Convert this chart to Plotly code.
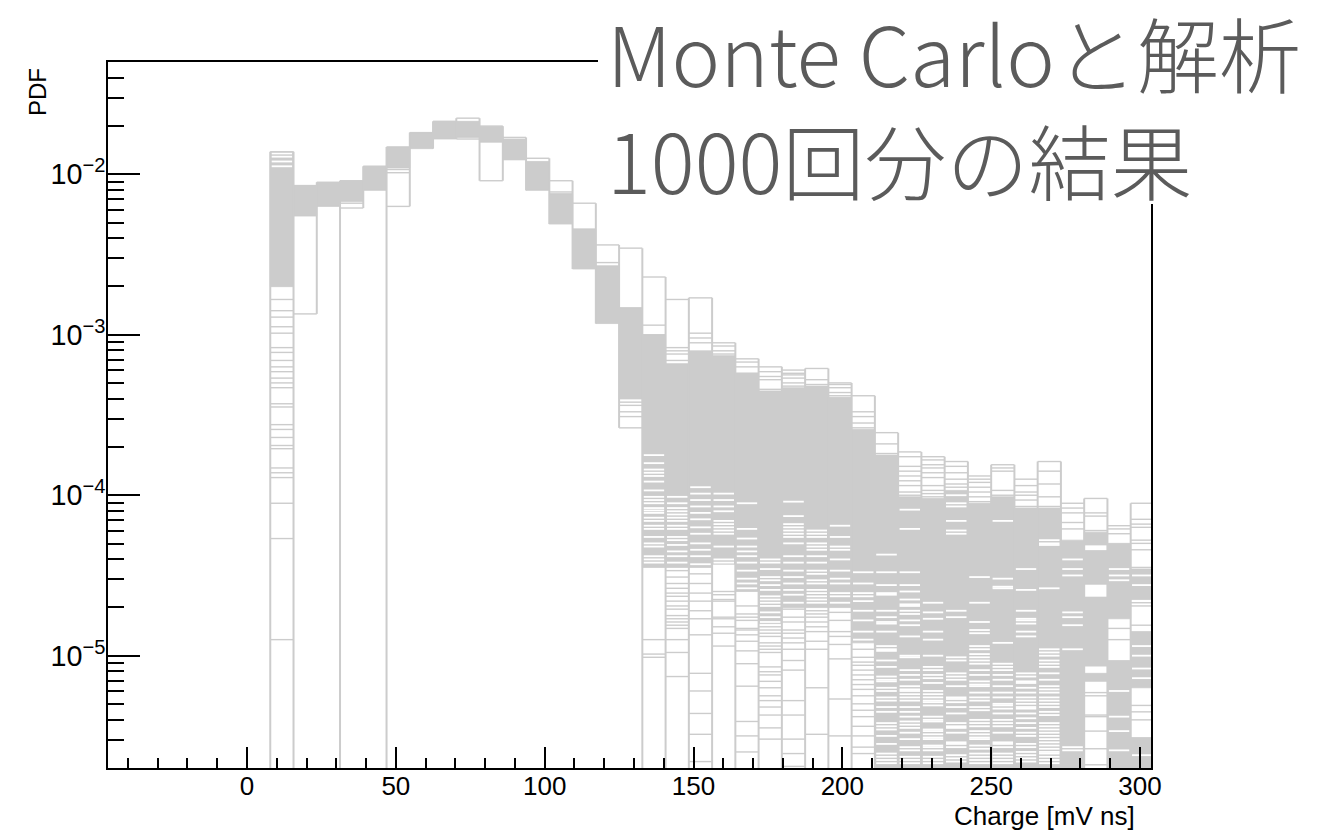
import plotly.graph_objects as go

# ---------------------------------------------------------------------------
# Charge spectrum: 1000 Monte Carlo runs overlaid (ROOT-style step histograms)
# ---------------------------------------------------------------------------
BIN_WIDTH = 7.8125      # mV ns
FIRST_EDGE = 7.8125     # lower edge of the first filled bin
N_BINS = 38

# log10(PDF): highest value reached in each bin over all runs
log_max = [-1.86, -2.07, -2.05, -2.04, -1.95, -1.83, -1.74, -1.67, -1.65, -1.70,
           -1.77, -1.90, -2.04, -2.18, -2.44, -2.46, -2.64, -2.78, -2.77, -3.05,
           -3.15, -3.20, -3.22, -3.21, -3.30, -3.38, -3.61, -3.73, -3.76, -3.79,
           -3.88, -3.81, -3.90, -3.79, -4.05, -4.02, -4.19, -4.05]

# log10(PDF) ranges (upper, lower) densely covered by the runs
log_bands = [
    [(-1.86, -2.70)], [(-2.07, -2.26)], [(-2.05, -2.20)], [(-2.04, -2.17)],
    [(-1.95, -2.10)], [(-1.83, -1.96)], [(-1.74, -1.84)], [(-1.67, -1.78)],
    [(-1.67, -1.77)], [(-1.70, -1.80)], [(-1.78, -1.91)], [(-1.92, -2.10)],
    [(-2.12, -2.31)], [(-2.34, -2.59)], [(-2.57, -2.93)], [(-2.83, -3.40)],
    [(-3.00, -4.45)], [(-3.18, -4.45)], [(-3.10, -4.45)], [(-3.13, -4.43)],
    [(-3.24, -4.60)], [(-3.35, -4.80)], [(-3.33, -4.70)], [(-3.32, -4.70)],
    [(-3.39, -4.70)], [(-3.59, -4.92)], [(-3.75, -5.80)], [(-4.01, -5.80)],
    [(-4.02, -5.80)], [(-3.97, -5.80)], [(-4.05, -5.80)], [(-4.01, -5.80)],
    [(-4.08, -5.80)], [(-4.08, -5.80)], [(-4.28, -5.80)],
    [(-4.23, -4.31), (-4.345, -4.555), (-4.635, -5.065), (-5.11, -5.16)],
    [(-4.30, -4.77), (-5.03, -5.80)],
    [(-4.46, -4.65), (-4.85, -5.20), (-5.51, -5.80)],
]

# log10(PDF) values inside the dense ranges that no run reached
log_gaps = [
    [-1.87, -1.89, -1.92, -1.95],
    [], [], [], [], [], [], [], [], [], [], [], [], [], [], [],
    [-3.75, -3.80, -3.84, -3.86, -3.88, -3.915, -3.97, -4.01, -4.03, -4.05,
     -4.08, -4.095, -4.11, -4.14, -4.16, -4.19, -4.21, -4.26, -4.30, -4.32,
     -4.38, -4.40, -4.42],
    [-4.01, -4.05, -4.08, -4.10, -4.12, -4.14, -4.16, -4.19, -4.21, -4.26, -4.28,
     -4.31, -4.35, -4.38, -4.42],
    [-3.95, -3.99, -4.03, -4.07, -4.11, -4.15, -4.20, -4.24, -4.30, -4.34, -4.38,
     -4.43],
    [-3.99, -4.03, -4.07, -4.10, -4.16, -4.18, -4.20, -4.22, -4.24, -4.32, -4.40,
     -4.42],
    [-4.05, -4.21, -4.27, -4.32, -4.35, -4.38, -4.42, -4.47, -4.52, -4.55, -4.58],
    [-4.40, -4.42, -4.46, -4.51, -4.53, -4.56, -4.59, -4.63, -4.65, -4.67, -4.69,
     -4.73, -4.76, -4.79],
    [-4.04, -4.13, -4.18, -4.20, -4.22, -4.24, -4.26, -4.30, -4.38, -4.42, -4.47,
     -4.51, -4.55, -4.59, -4.62, -4.67],
    [-4.22, -4.24, -4.26, -4.30, -4.32, -4.34, -4.38, -4.42, -4.47, -4.49, -4.53,
     -4.55, -4.59, -4.61, -4.63, -4.65, -4.67],
    [-4.19, -4.26, -4.32, -4.34, -4.40, -4.47, -4.52, -4.55, -4.61, -4.63, -4.67],
    [-4.48, -4.55, -4.61, -4.63, -4.66, -4.72, -4.78, -4.85, -4.90],
    [-4.37, -4.48, -4.56, -4.61, -4.62, -4.72, -4.76, -4.79, -4.80, -4.85, -4.94,
     -4.96, -4.97, -5.03, -5.07, -5.13, -5.15, -5.16, -5.20, -5.22, -5.26, -5.28,
     -5.32, -5.35, -5.42, -5.44, -5.46, -5.50, -5.55, -5.61, -5.63, -5.65, -5.67],
    [-4.09, -4.21, -4.48, -4.56, -4.60, -4.65, -4.68, -4.69, -4.72, -4.74, -4.78,
     -4.81, -4.88, -5.00, -5.01, -5.09, -5.12, -5.15, -5.19, -5.21, -5.22, -5.24,
     -5.26, -5.28, -5.32, -5.35, -5.38, -5.41, -5.43, -5.45, -5.48, -5.52, -5.57,
     -5.59, -5.63, -5.65, -5.67],
    [-4.67, -4.73, -4.77, -4.85, -4.90, -5.00, -5.07, -5.09, -5.12, -5.14, -5.17,
     -5.22, -5.24, -5.26, -5.28, -5.29, -5.31, -5.38, -5.40, -5.41, -5.46, -5.47,
     -5.49, -5.51, -5.52, -5.56, -5.57, -5.59, -5.63, -5.65, -5.67],
    [-4.00, -4.05, -4.07, -4.16, -4.22, -4.24, -4.72, -4.76, -5.01, -5.03, -5.11,
     -5.13, -5.15, -5.19, -5.26, -5.27, -5.29, -5.32, -5.36, -5.42, -5.44, -5.45,
     -5.48, -5.54, -5.55, -5.57, -5.62, -5.64, -5.66],
    [-4.51, -4.67, -4.79, -4.84, -4.86, -4.94, -4.96, -4.99, -5.01, -5.03, -5.05,
     -5.09, -5.12, -5.16, -5.18, -5.19, -5.23, -5.26, -5.28, -5.32, -5.34, -5.40,
     -5.42, -5.44, -5.47, -5.49, -5.51, -5.52, -5.56, -5.58, -5.61, -5.63, -5.65,
     -5.67],
    [-4.16, -4.52, -4.57, -4.58, -4.92, -5.05, -5.07, -5.09, -5.12, -5.15, -5.19,
     -5.23, -5.26, -5.30, -5.31, -5.33, -5.36, -5.40, -5.42, -5.44, -5.48, -5.54,
     -5.55, -5.57, -5.61, -5.63, -5.65, -5.67],
    [-4.46, -4.59, -4.72, -4.77, -4.78, -4.80, -4.85, -4.88, -5.11, -5.13, -5.16,
     -5.17, -5.20, -5.23, -5.26, -5.28, -5.30, -5.32, -5.33, -5.36, -5.39, -5.42,
     -5.45, -5.48, -5.50, -5.55, -5.57, -5.60, -5.62, -5.64, -5.66],
    [-4.28, -4.30, -4.31, -4.58, -4.96, -4.98, -5.00, -5.03, -5.05, -5.07, -5.11,
     -5.15, -5.19, -5.21, -5.23, -5.26, -5.28, -5.30, -5.32, -5.35, -5.37, -5.42,
     -5.44, -5.46, -5.48, -5.50, -5.52, -5.54, -5.56, -5.58, -5.60, -5.61, -5.63,
     -5.65, -5.67],
    [-4.40, -4.46, -4.50, -4.73, -4.76, -4.81, -4.96, -5.57, -5.59],
    [],
    [-4.46, -4.50, -4.53, -5.22, -5.38, -5.47, -5.59],
    [-4.50, -4.56, -4.94, -5.00, -5.08, -5.14, -5.62],
]

# log10(PDF) of isolated run values outside the dense ranges
log_levels = [
    [-2.78, -2.85, -2.89, -2.95, -2.99, -3.08, -3.11, -3.16, -3.20, -3.23, -3.27,
     -3.30, -3.33, -3.43, -3.45, -3.56, -3.59, -3.64, -3.69, -3.71, -3.83, -3.86,
     -3.89, -4.05, -4.27, -4.90],
    [-2.87],
    [],
    [-2.18, -2.21],
    [],
    [-1.97, -1.99, -2.20],
    [],
    [],
    [-1.78],
    [-2.04],
    [],
    [],
    [-2.11],
    [],
    [-2.55],
    [-2.84, -3.42, -3.44, -3.48, -3.51, -3.58],
    [-2.94, -3.00, -4.90, -4.99, -5.01],
    [-3.08, -3.10, -3.12, -3.16, -4.47, -4.51, -4.55, -4.58, -4.61, -4.63, -4.66,
     -4.69, -4.71, -4.75, -4.77, -4.79, -4.81, -4.83, -4.90, -4.98, -5.13],
    [-2.99, -3.02, -3.05, -4.49, -4.55, -4.61, -4.66, -4.72, -4.77, -4.87, -5.11,
     -5.22, -5.36, -5.49, -5.66],
    [-3.07, -3.10, -3.12, -4.60, -4.62, -4.65, -4.66, -4.76, -4.77, -4.82, -4.86,
     -4.94],
    [-3.17, -3.20, -3.24, -4.69, -4.74, -4.76, -4.78, -4.83, -4.84, -4.87, -4.91,
     -4.97, -5.05, -5.19, -5.41, -5.50, -5.60],
    [-3.23, -3.26, -3.28, -3.34, -4.82, -4.84, -4.86, -4.88, -4.92, -4.94, -4.96,
     -4.98, -5.07, -5.10, -5.12, -5.16, -5.20, -5.25, -5.28, -5.32, -5.37, -5.45,
     -5.52],
    [-3.24, -3.25, -3.27, -3.30, -3.32, -4.71, -4.76, -4.79, -4.84, -4.86, -4.89,
     -4.92, -4.96, -5.03, -5.09, -5.28, -5.37, -5.52, -5.61, -5.69],
    [-3.28, -3.31, -4.72, -4.74, -4.76, -4.79, -4.82, -4.85, -4.91, -4.96, -5.20,
     -5.49],
    [-3.31, -3.33, -3.36, -3.38, -4.73, -4.78, -4.85, -4.88, -4.93, -5.02, -5.27,
     -5.50],
    [-3.48, -3.51, -3.55, -3.58, -4.96, -5.01, -5.04, -5.06, -5.09, -5.12, -5.15,
     -5.18, -5.21, -5.25, -5.30, -5.34, -5.38, -5.44, -5.50, -5.57, -5.61],
    [-3.68, -3.74],
    [-3.76, -3.82, -3.85, -3.88, -3.91, -3.94, -3.98, -4.00],
    [-3.78, -3.81, -3.83, -3.86, -3.89, -3.94, -3.97, -3.99, -4.01],
    [-3.82, -3.86, -3.90, -3.93, -3.95],
    [-3.90, -3.92, -3.95, -3.98, -4.01, -4.04],
    [-3.83, -3.85, -3.97, -4.00],
    [-3.94, -3.98, -4.00, -4.03, -4.07],
    [-3.85, -3.93, -4.01, -4.07],
    [-4.08, -4.11, -4.17, -4.21],
    [-4.11, -4.13, -4.22, -5.23, -5.25, -5.37, -5.38, -5.47, -5.58, -5.68],
    [-4.21, -4.24, -4.83, -4.90],
    [-4.15, -4.18, -4.20, -4.28, -4.30, -4.34, -4.45, -4.67, -4.69, -4.81, -5.31,
     -5.35, -5.40],
]

# runs with an empty bin: "" none, "one" a single run, "many" several runs
empty_runs = ["many", "", "", "one", "one"] + [""] * 11 + ["many"] * 22

GRAY = "rgb(204,204,204)"
FLOOR = 1e-7                       # stands in for zero on the log axis
FONT = "Liberation Sans, Arial, Helvetica, sans-serif"

edges = [FIRST_EDGE + BIN_WIDTH * i for i in range(N_BINS + 1)]

# dense ranges as filled rectangles
fx, fy = [], []
for i, bands in enumerate(log_bands):
    x0, x1 = edges[i], edges[i + 1]
    for hi, lo in bands:
        fx += [x0, x1, x1, x0, x0, None]
        fy += [10 ** hi, 10 ** hi, 10 ** lo, 10 ** lo, 10 ** hi, None]

# empty stripes inside the dense ranges
gx, gy = [], []
for i, gaps in enumerate(log_gaps):
    x0, x1 = edges[i], edges[i + 1]
    for v in gaps:
        gx += [x0 + 0.45, x1 - 0.45, None]
        gy += [10 ** v, 10 ** v, None]

# horizontal step tops of every level
hx, hy = [], []
bin_hi, bin_lo = [], []
for i in range(N_BINS):
    x0, x1 = edges[i], edges[i + 1]
    band_vals = [v for b in log_bands[i] for v in b]
    vals = [log_max[i]] + band_vals + log_levels[i]
    bin_hi.append(max(vals))
    bin_lo.append(min(vals))
    for v in [log_max[i]] + log_levels[i]:
        hx += [x0, x1, None]
        hy += [10 ** v, 10 ** v, None]

# vertical risers at every bin edge
vx, vy = [], []
for j in range(N_BINS + 1):
    a, b = j - 1, j
    st_a = empty_runs[a] if a >= 0 else "all"
    st_b = empty_runs[b] if b < N_BINS else "all"
    his = [bin_hi[k] for k in (a, b) if 0 <= k < N_BINS]
    los = [bin_lo[k] for k in (a, b) if 0 <= k < N_BINS]
    top = 10 ** max(his)
    same = (st_a == st_b) and st_a in ("", "one")
    bottom = 10 ** min(los) if same else FLOOR
    vx += [edges[j], edges[j], None]
    vy += [bottom, top, None]

fig = go.Figure()
fig.add_trace(go.Scatter(x=fx, y=fy, mode="lines", fill="toself", fillcolor=GRAY,
                         line=dict(color=GRAY, width=0.8), hoverinfo="skip"))
fig.add_trace(go.Scatter(x=gx, y=gy, mode="lines",
                         line=dict(color="white", width=1.8), hoverinfo="skip"))
fig.add_trace(go.Scatter(x=hx, y=hy, mode="lines",
                         line=dict(color=GRAY, width=1.4), hoverinfo="skip"))
fig.add_trace(go.Scatter(x=vx, y=vy, mode="lines",
                         line=dict(color=GRAY, width=2), hoverinfo="skip"))

W, H = 1327, 833
L, R, T, B = 108, 176, 62, 65
pw, ph = W - L - R, H - T - B


def px(xp):
    return (xp - L) / pw


def py(yp):
    return (H - B - yp) / ph


fig.update_layout(
    width=W, height=H,
    margin=dict(l=L, r=R, t=T, b=B, pad=0),
    paper_bgcolor="white", plot_bgcolor="white",
    showlegend=False,
    font=dict(family=FONT, color="black"),
    xaxis=dict(
        range=[-46.7, 303.7], showgrid=False, zeroline=False,
        tick0=0, dtick=50, ticks="inside", ticklen=21, tickwidth=2,
        tickcolor="black", showline=True, linewidth=2, linecolor="black",
        mirror=True, tickfont=dict(size=26, family=FONT),
        ticklabelstandoff=-6,
        minor=dict(dtick=10, tick0=0, ticks="inside", ticklen=10,
                   tickwidth=2, tickcolor="black"),
    ),
    yaxis=dict(
        type="log", range=[-5.70, -1.30], showgrid=False, zeroline=False,
        dtick=1, ticks="inside", ticklen=32, tickwidth=2, tickcolor="black",
        exponentformat="power", showline=True, linewidth=2,
        linecolor="black", mirror=True, tickfont=dict(size=23, family=FONT),
        ticklabelstandoff=-4,
        minor=dict(dtick="D1", ticks="inside", ticklen=16, tickwidth=2,
                   tickcolor="black"),
    ),
    shapes=[
        dict(type="rect", xref="paper", yref="paper", layer="above",
             x0=px(598), x1=px(W + 5), y0=py(204), y1=py(-5),
             fillcolor="white", line=dict(width=0)),
    ],
    annotations=[
        dict(text="PDF", xref="paper", yref="paper", x=px(38), y=py(66),
             xanchor="center", yanchor="top", textangle=-90, showarrow=False,
             font=dict(size=24, family=FONT)),
        dict(text="Charge [mV ns]", xref="paper", yref="paper", x=px(1137),
             y=py(816), xanchor="right", yanchor="middle", showarrow=False,
             font=dict(size=26, family=FONT)),
        dict(text="Monte Carloと解析<br>1000回分の結果", xref="paper",
             yref="paper", x=px(605), y=py(105), xanchor="left",
             yanchor="middle", align="left", showarrow=False,
             font=dict(size=82, family="Noto Sans CJK JP", color="#5b5b5b",
                       weight=300)),
    ],
)

fig.write_html("out.html")
